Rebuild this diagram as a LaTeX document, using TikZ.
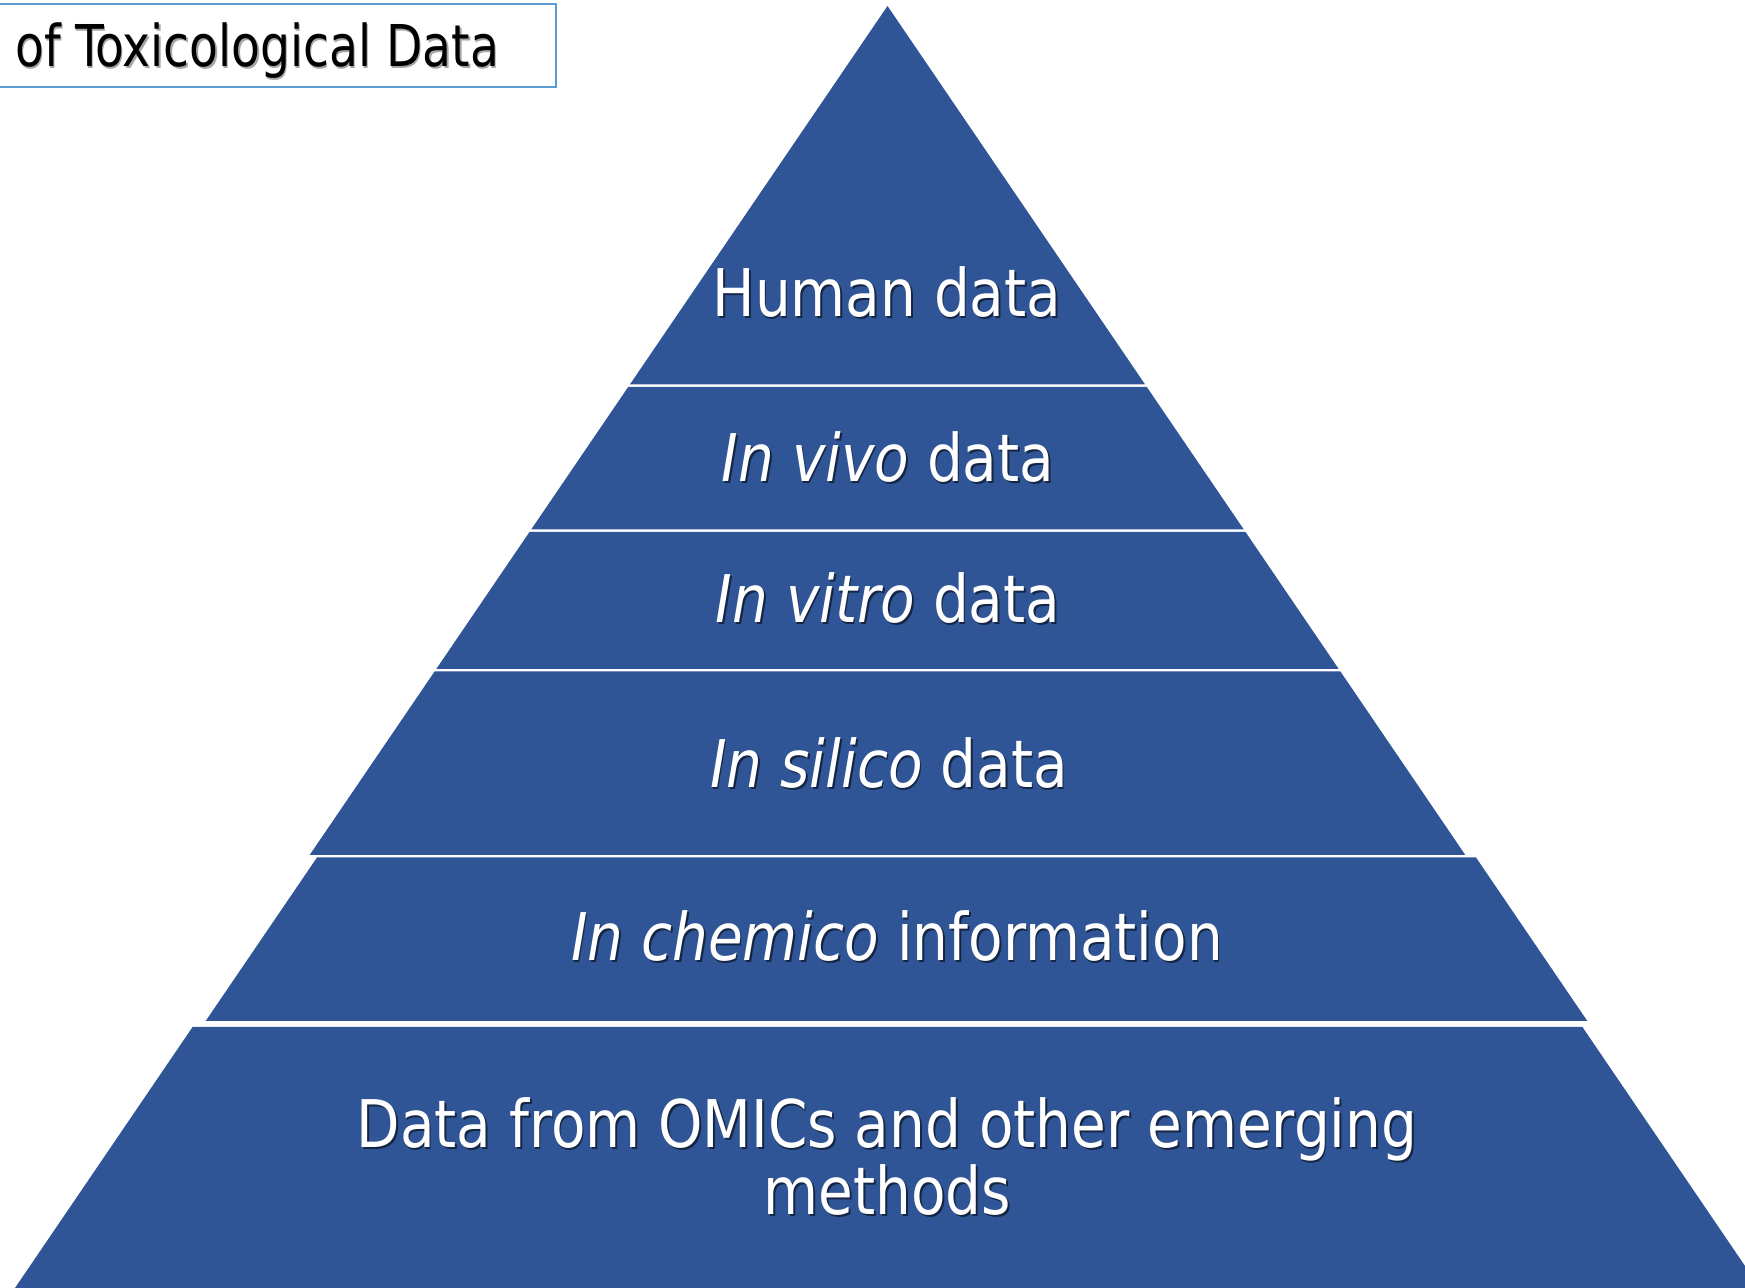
\documentclass[tikz,border=0pt]{standalone}
\usepackage{fontspec}
\setmainfont{DejaVu Sans Condensed}[FakeStretch=0.955]
\newfontfamily\titlefont{DejaVu Sans Condensed}[FakeStretch=0.91]
\usepackage{tikz}
\usetikzlibrary{shapes,arrows,positioning,backgrounds,calc}

\definecolor{pyrblue}{RGB}{47,85,151}
\definecolor{boxblue}{RGB}{91,155,213}
\tikzset{
  layertext/.style={anchor=base,inner sep=0pt,text=white,font=\fontsize{18.7}{19.2}\selectfont},
  layershadow/.style={layertext,text=black,opacity=0.55,xshift=0.5pt,yshift=-0.5pt},
  titletext/.style={anchor=base west,inner sep=0pt,text=black,font=\titlefont\fontsize{16.4}{17}\selectfont}
}
\newcommand{\layerlabel}[3]{%
  \node[layershadow] at (#2) {#3};
  \node[layertext] (#1) at (#2) {#3};}

\begin{document}
\begin{tikzpicture}
\useasboundingbox (0,0) rectangle (17.45,12.88);
\clip (0,0) rectangle (17.45,12.88);
\fill[pyrblue] (8.875,12.82) -- (11.451,9.035) -- (6.299,9.035) -- cycle;
\fill[pyrblue] (6.282,9.01) -- (11.468,9.01) -- (12.438,7.585) -- (5.312,7.585) -- cycle;
\fill[pyrblue] (5.295,7.56) -- (12.455,7.56) -- (13.387,6.19) -- (4.363,6.19) -- cycle;
\fill[pyrblue] (4.346,6.165) -- (13.404,6.165) -- (14.653,4.33) -- (3.097,4.33) -- cycle;
\fill[pyrblue] (3.170,4.305) -- (14.760,4.305) -- (15.873,2.67) -- (2.057,2.67) -- cycle;
\fill[pyrblue] (1.926,2.61) -- (15.824,2.61) -- (17.60,0) -- (0.15,0) -- cycle;
\layerlabel{human}{8.87,9.71}{Human data}
\layerlabel{vivo}{8.88,8.06}{\textit{In vivo} data}
\layerlabel{vitro}{8.88,6.65}{\textit{In vitro} data}
\layerlabel{silico}{8.89,5.00}{\textit{In silico} data}
\layerlabel{chemico}{8.97,3.275}{\textit{In chemico} information}
\layerlabel{omics}{8.87,1.405}{Data from OMICs and other emerging}
\layerlabel{methods}{8.875,0.73}{methods}
\draw[boxblue,line width=0.6pt] (-0.1,12.84) rectangle (5.557,12.01);
\node[titletext,text=black!35,xshift=0.4pt,yshift=-0.4pt] at (0.145,12.21) {of Toxicological Data};
\node[titletext] (title) at (0.145,12.21) {of Toxicological Data};
\end{tikzpicture}
\end{document}
